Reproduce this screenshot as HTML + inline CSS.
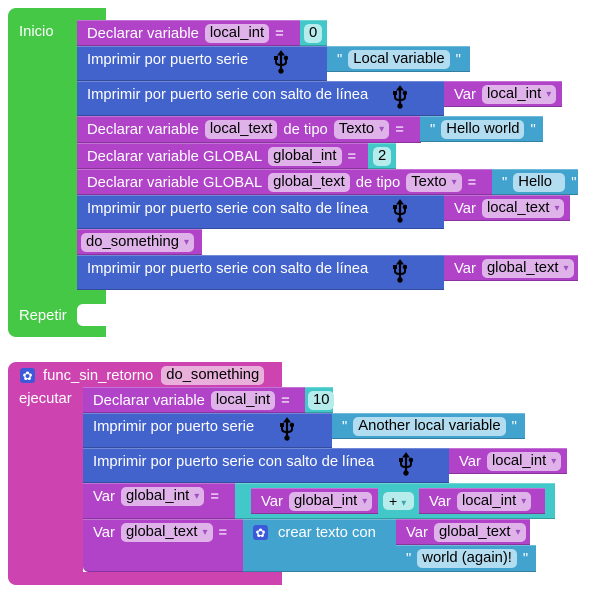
<!DOCTYPE html>
<html><head><meta charset="utf-8"><style>
body{margin:0;width:612px;height:596px;background:#fff;position:relative;overflow:hidden;font-family:"Liberation Sans",Arial,sans-serif;font-size:14.8px;color:#fff}
.b{position:absolute;box-sizing:border-box;border-bottom:1px solid rgba(0,0,0,.22);border-top:1px solid rgba(255,255,255,.25)}
.r{position:absolute;left:0;top:0;height:25px;display:flex;align-items:center;white-space:nowrap;padding-left:10px;gap:6px}
.p{background:rgba(255,255,255,.6);color:#000;border-radius:5px;padding:0 5px;height:19px;line-height:19px;display:inline-flex;align-items:center}
.d::after{content:"▾";font-size:10px;color:#a050c0;margin-left:5px}
.pu{background:#b043c8}.bl{background:#4262cc}.te{background:#42c8c8}.tx{background:#42a3cf}.mg{background:#cd44b0}.gr{background:#45c845}
.usb{position:absolute;top:3px}
.gear{width:15px;height:15px;background:#3b59d8;border-radius:3px;display:inline-flex;align-items:center;justify-content:center;font-size:12px;color:#fff}
</style></head><body>
<div style="position:absolute;left:8px;top:8px;width:98px;height:329px;background:#45c845;border-radius:8px 0 0 8px"></div>
<div style="position:absolute;left:77px;top:20px;width:40px;height:270px;background:#fff"></div>
<div style="position:absolute;left:77px;top:304px;width:40px;height:22px;background:#fff;border-radius:6px 0 0 6px"></div>
<div style="position:absolute;left:19px;top:24px;color:#fff">Inicio</div>
<div style="position:absolute;left:19px;top:308px;color:#fff">Repetir</div>

<svg width="0" height="0" style="position:absolute"><defs><symbol id="u" viewBox="0 0 14 24"><g fill="#000" stroke="#000"><path d="M7 1 L4 5 H10 Z"/><line x1="7" y1="4" x2="7" y2="20" stroke-width="2.2"/><path d="M2 8 V12 Q2 15 7 15 Q12 15 12 12 V9" fill="none" stroke-width="2"/><rect x="0.5" y="6.5" width="3" height="3"/><circle cx="12" cy="8" r="1.8"/><circle cx="7" cy="21" r="2.2"/></g></symbol></defs></svg>

<div class="b pu" style="left:77px;top:20px;width:224px;height:26px"><div class="r">Declarar variable <span class="p">local_int</span> =</div></div>
<div class="b te" style="left:300px;top:20px;width:27px;height:26px"><div class="r" style="padding-left:4px"><span class="p" style="background:#b6ecec">0</span></div></div>
<div class="b bl" style="left:77px;top:46px;width:250px;height:35px"><div class="r">Imprimir por puerto serie</div><svg class="usb" style="left:197px" width="14" height="24"><use href="#u"/></svg></div>
<div class="b tx" style="left:327px;top:46px;width:143px;height:26px"><div class="r">" <span class="p" style="background:#b2dcef">Local variable</span> "</div></div>
<div class="b bl" style="left:77px;top:81px;width:367px;height:35px"><div class="r">Imprimir por puerto serie con salto de línea</div><svg class="usb" style="left:316px" width="14" height="24"><use href="#u"/></svg></div>
<div class="b pu" style="left:444px;top:81px;width:118px;height:26px"><div class="r">Var <span class="p d">local_int</span></div></div>
<div class="b pu" style="left:77px;top:116px;width:344px;height:27px"><div class="r">Declarar variable <span class="p">local_text</span> de tipo <span class="p d">Texto</span> =</div></div>
<div class="b tx" style="left:420px;top:116px;width:123px;height:26px"><div class="r">" <span class="p" style="background:#b2dcef">Hello world</span> "</div></div>
<div class="b pu" style="left:77px;top:143px;width:292px;height:26px"><div class="r">Declarar variable GLOBAL <span class="p">global_int</span> =</div></div>
<div class="b te" style="left:368px;top:143px;width:28px;height:26px"><div class="r" style="padding-left:5px"><span class="p" style="background:#b6ecec">2</span></div></div>
<div class="b pu" style="left:77px;top:169px;width:416px;height:26px"><div class="r">Declarar variable GLOBAL <span class="p">global_text</span> de tipo <span class="p d">Texto</span> =</div></div>
<div class="b tx" style="left:492px;top:169px;width:86px;height:26px"><div class="r">" <span class="p" style="background:#b2dcef">Hello&nbsp;&nbsp;</span> "</div></div>
<div class="b bl" style="left:77px;top:195px;width:367px;height:34px"><div class="r">Imprimir por puerto serie con salto de línea</div><svg class="usb" style="left:316px" width="14" height="24"><use href="#u"/></svg></div>
<div class="b pu" style="left:444px;top:195px;width:126px;height:26px"><div class="r">Var <span class="p d">local_text</span></div></div>
<div class="b pu" style="left:77px;top:229px;width:125px;height:26px"><div class="r" style="padding-left:4px"><span class="p d">do_something</span></div></div>
<div class="b bl" style="left:77px;top:255px;width:367px;height:35px"><div class="r">Imprimir por puerto serie con salto de línea</div><svg class="usb" style="left:316px" width="14" height="24"><use href="#u"/></svg></div>
<div class="b pu" style="left:444px;top:255px;width:134px;height:26px"><div class="r">Var <span class="p d">global_text</span></div></div>

<div style="position:absolute;left:8px;top:362px;width:274px;height:223px;background:#cd44b0;border-radius:8px 0 0 8px"></div>
<div style="position:absolute;left:83px;top:387px;width:200px;height:185px;background:#fff"></div>
<div style="position:absolute;left:20px;top:366px;display:flex;align-items:center;gap:8px;color:#fff"><span class="gear">✿</span>func_sin_retorno <span class="p" style="background:#eab0dc">do_something</span></div>
<div style="position:absolute;left:19px;top:391px">ejecutar</div>

<div class="b pu" style="left:83px;top:387px;width:223px;height:26px"><div class="r">Declarar variable <span class="p">local_int</span> =</div></div>
<div class="b te" style="left:305px;top:387px;width:28px;height:26px"><div class="r" style="padding-left:3px"><span class="p" style="background:#b6ecec">10</span></div></div>
<div class="b bl" style="left:83px;top:413px;width:249px;height:35px"><div class="r">Imprimir por puerto serie</div><svg class="usb" style="left:197px" width="14" height="24"><use href="#u"/></svg></div>
<div class="b tx" style="left:332px;top:413px;width:193px;height:26px"><div class="r">" <span class="p" style="background:#b2dcef">Another local variable</span> "</div></div>
<div class="b bl" style="left:83px;top:448px;width:366px;height:35px"><div class="r">Imprimir por puerto serie con salto de línea</div><svg class="usb" style="left:316px" width="14" height="24"><use href="#u"/></svg></div>
<div class="b pu" style="left:449px;top:448px;width:118px;height:26px"><div class="r">Var <span class="p d">local_int</span></div></div>
<div class="b pu" style="left:83px;top:483px;width:153px;height:36px"><div class="r">Var <span class="p d">global_int</span> =</div></div>
<div class="b te" style="left:235px;top:483px;width:320px;height:36px"></div>
<div class="b pu" style="left:251px;top:488px;width:127px;height:26px"><div class="r">Var <span class="p d">global_int</span></div></div>
<div style="position:absolute;left:383px;top:492px;width:31px;height:18px;background:#b6ecec;border-radius:5px;color:#000;font-size:14px;line-height:18px;padding-left:6px;box-sizing:border-box">+<span style="font-size:10px;color:#42a8a8;margin-left:4px">▾</span></div>
<div class="b pu" style="left:419px;top:488px;width:126px;height:26px"><div class="r">Var <span class="p d">local_int</span></div></div>
<div class="b pu" style="left:83px;top:519px;width:161px;height:53px;border-radius:0 0 0 6px"><div class="r">Var <span class="p d">global_text</span> =</div></div>
<div class="b tx" style="left:243px;top:519px;width:154px;height:53px"><div class="r" style="gap:10px"><span class="gear">✿</span>crear texto con</div></div>
<div class="b pu" style="left:396px;top:519px;width:134px;height:26px"><div class="r">Var <span class="p d">global_text</span></div></div>
<div class="b tx" style="left:396px;top:545px;width:140px;height:27px"><div class="r">" <span class="p" style="background:#b2dcef">world (again)!</span> "</div></div>
</body></html>
